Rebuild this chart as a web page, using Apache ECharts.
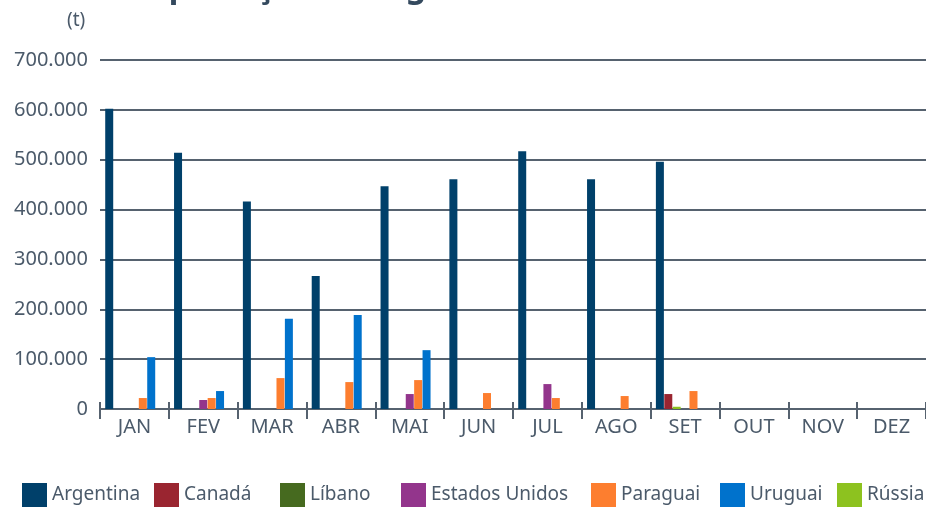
<!DOCTYPE html>
<html>
<head>
<meta charset="utf-8">
<script src="https://cdn.jsdelivr.net/npm/echarts@6/dist/echarts.min.js"></script>
<style>
html,body{margin:0;padding:0;background:#fff;}
#chart{width:926px;height:507px;}
</style>
</head>
<body>
<div id="chart"></div>
<script>
const months = ['JAN','FEV','MAR','ABR','MAI','JUN','JUL','AGO','SET','OUT','NOV','DEZ'];
const yTicks = [0,100000,200000,300000,400000,500000,600000,700000];
const argentina = [602000,514000,416000,267000,447000,461000,517000,461000,496000,null,null,null];
const canada    = [null,null,null,null,null,null,null,null,30000,null,null,null];
const libano    = [null,null,null,null,null,null,null,null,null,null,null,null];
const eua       = [null,18000,null,null,30000,null,50000,null,null,null,null,null];
const paraguai  = [22000,22000,62000,54000,58000,32000,22000,26000,36000,null,null,null];
const uruguai   = [104000,36000,181000,188500,118000,null,null,null,null,null,null,null];
const russia    = [null,null,null,null,null,null,null,null,4500,null,null,null];

const legendOrder = ['Argentina','Canadá','Líbano','Estados Unidos','Paraguai','Uruguai','Rússia'];
const legendLeft = [17,149,275,396,586,715,832];
const seriesDefs = [
  {name:'Argentina', data:argentina, color:'#00406a'},
  {name:'Canadá', data:canada, color:'#9a2530'},
  {name:'Rússia', data:russia, color:'#8dc21f'},
  {name:'Estados Unidos', data:eua, color:'#93358c'},
  {name:'Paraguai', data:paraguai, color:'#fd7e2f'},
  {name:'Uruguai', data:uruguai, color:'#0072cc'},
  {name:'Líbano', data:libano, color:'#466a1f'}
];
const textColor = '#4b5a6a';
const lineColor = '#56626f';
const fam = '"Noto Sans", sans-serif';

const chart = echarts.init(document.getElementById('chart'), null, {renderer:'canvas'});
chart.setOption({
  animation:false,
  title:[
    {text:'Importação de trigo', left:120, top:-33, textStyle:{fontFamily:fam, fontSize:32, fontWeight:'bold', color:'#34495e'}},
    {text:'(t)', left:62, top:6, textStyle:{fontFamily:fam, fontSize:19, fontWeight:'normal', color:textColor}}
  ],
  legend:legendOrder.map((n,i)=>({
    data:[n],
    left:legendLeft[i], top:478,
    itemWidth:25, itemHeight:24, itemGap:0,
    icon:'rect',
    selectedMode:false,
    textStyle:{fontFamily:fam, fontSize:19, color:textColor}
  })),
  grid:{left:100, right:-6, top:60, bottom:98, containLabel:false},
  xAxis:[
    {type:'category', data:months, position:'bottom',
     axisLine:{lineStyle:{color:lineColor, width:2}},
     axisTick:{show:true, length:10, lineStyle:{color:lineColor, width:2}},
     axisLabel:{fontFamily:fam, fontSize:20, color:textColor, margin:8}},
    {type:'category', data:months, position:'bottom',
     axisLine:{show:false},
     axisTick:{show:true, inside:true, length:7, lineStyle:{color:lineColor, width:2}},
     axisLabel:{show:false}}
  ],
  yAxis:{
    type:'value', min:yTicks[0], max:yTicks[yTicks.length-1], interval:yTicks[1]-yTicks[0],
    axisLine:{show:false}, axisTick:{show:false},
    splitLine:{lineStyle:{color:lineColor, width:2}},
    axisLabel:{fontFamily:fam, fontSize:20, color:textColor, margin:12,
      formatter:v=>v.toString().replace(/\B(?=(\d{3})+(?!\d))/g,'.')}
  },
  series:seriesDefs.map(s=>({
    type:'bar', name:s.name, data:s.data, xAxisIndex:0,
    barWidth:8, barGap:'5%',
    itemStyle:{color:s.color}
  }))
});
</script>
</body>
</html>
